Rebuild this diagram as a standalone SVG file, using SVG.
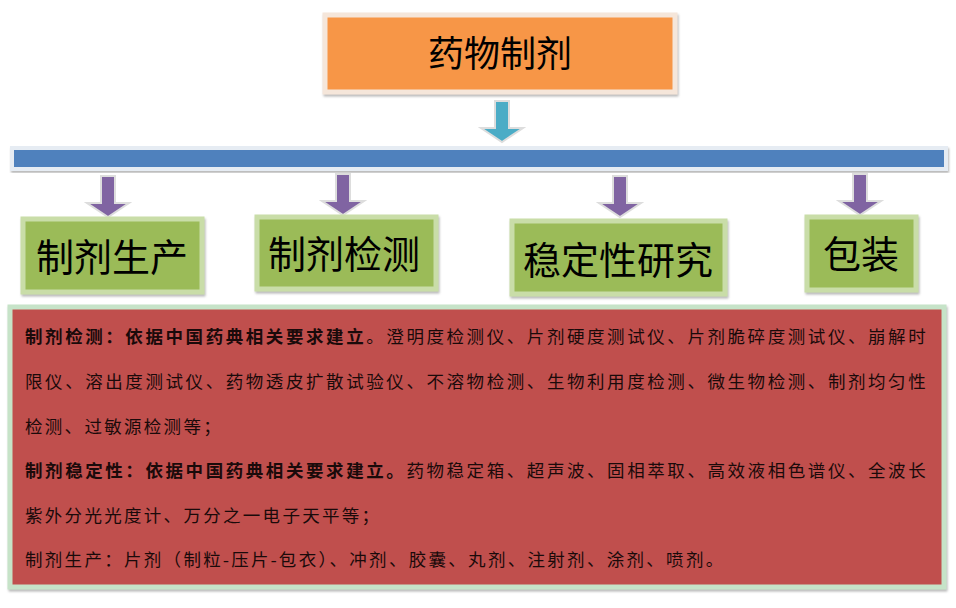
<svg xmlns="http://www.w3.org/2000/svg" width="956" height="608" viewBox="0 0 956 608">
<style>
.t{font-family:"Noto Sans CJK SC",sans-serif;fill:#000;text-anchor:middle}
.g{fill:#9BBB59;stroke:#C9DDA8;stroke-width:5}
.p{font-family:"Liberation Serif","Noto Sans CJK SC",serif;font-size:17.5px;fill:#1a0a0a;letter-spacing:2.3px}
.b{font-weight:bold}
</style>
<defs>
<filter id="sh" x="-5%" y="-5%" width="110%" height="120%"><feDropShadow dx="1" dy="2" stdDeviation="1" flood-color="#888" flood-opacity="0.6"/></filter>
</defs>
<rect width="956" height="608" fill="#fff"/>
<g id="top"><rect x="325" y="15" width="350" height="77" fill="#F79646" stroke="#F5E6DA" stroke-width="5" filter="url(#sh)"/>
<text class="t" x="500" y="67" font-size="36">药物制剂</text></g>
<g id="connectors">
<path d="M495,101 h14 v27 h14 l-21,14 l-21,-14 h14 z" fill="#4BACC6" stroke="#ddd" stroke-width="2"/>
<rect x="12" y="148" width="934" height="21" fill="#4F81BD" stroke="#E6ECF3" stroke-width="4" filter="url(#sh)"/>
<g fill="#8064A2" stroke="#ddd" stroke-width="2">
<path d="M101,176 h14 v27 h14 l-21,14 l-21,-14 h14 z"/>
<path d="M336,174 h14 v27 h14 l-21,14 l-21,-14 h14 z"/>
<path d="M613,176 h14 v27 h14 l-21,14 l-21,-14 h14 z"/>
<path d="M853,174 h14 v27 h14 l-21,14 l-21,-14 h14 z"/>
</g></g>
<g id="n1"><rect class="g" x="23" y="219" width="179" height="73" filter="url(#sh)"/><text class="t" x="112" y="271" font-size="38">制剂生产</text></g>
<g id="n2"><rect class="g" x="257" y="217" width="179" height="72" filter="url(#sh)"/><text class="t" x="344" y="268" font-size="38">制剂检测</text></g>
<g id="n3"><rect class="g" x="512" y="221" width="213" height="73" filter="url(#sh)"/><text class="t" x="618" y="274" font-size="38">稳定性研究</text></g>
<g id="n4"><rect class="g" x="807" y="217" width="109" height="73" filter="url(#sh)"/><text class="t" x="861" y="268" font-size="38">包装</text></g>
<g id="detail"><rect x="10" y="307" width="934" height="280" fill="#C0504D" stroke="#C6E3C8" stroke-width="5" filter="url(#sh)"/>
<text class="p" x="25" y="343" textLength="903" lengthAdjust="spacing"><tspan class="b">制剂检测：依据中国药典相关要求建立</tspan>。澄明度检测仪、片剂硬度测试仪、片剂脆碎度测试仪、崩解时</text>
<text class="p" x="25" y="388" textLength="903" lengthAdjust="spacing">限仪、溶出度测试仪、药物透皮扩散试验仪、不溶物检测、生物利用度检测、微生物检测、制剂均匀性</text>
<text class="p" x="25" y="433">检测、过敏源检测等；</text>
<text class="p" x="25" y="477" textLength="903" lengthAdjust="spacing"><tspan class="b">制剂稳定性：依据中国药典相关要求建立。</tspan>药物稳定箱、超声波、固相萃取、高效液相色谱仪、全波长</text>
<text class="p" x="25" y="522">紫外分光光度计、万分之一电子天平等；</text>
<text class="p" x="25" y="566">制剂生产：片剂（制粒-压片-包衣）、冲剂、胶囊、丸剂、注射剂、涂剂、喷剂。</text>
</g>
</svg>
